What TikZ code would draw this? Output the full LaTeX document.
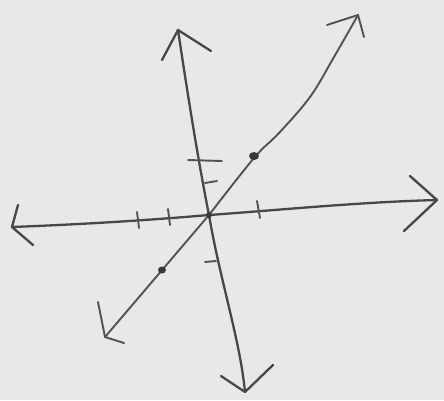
\documentclass[tikz,border=0pt]{standalone}
\begin{document}
\begin{tikzpicture}[x=1pt,y=-1pt,
  pen/.style={draw=black!72,line width=2.3pt,line cap=round,line join=round},
  thin pen/.style={draw=black!68,line width=1.9pt,line cap=round,line join=round},
  dotmark/.style={fill=black!78}]
\fill[black!9] (0,0) rectangle (444,400);
\useasboundingbox (0,0) rectangle (444,400);
% named points
\coordinate (O) at (209,215);
\coordinate (xl) at (12,227);
\coordinate (xr) at (437,200);
\coordinate (yt) at (178,30);
\coordinate (yb) at (245,392);
\coordinate (dl) at (105,337);
\coordinate (dr) at (358,15);
% horizontal axis
\draw[pen] (xl) .. controls (90,224) and (150,220) .. (O)
  .. controls (280,210) and (360,202) .. (xr);
\draw[pen] (18,205) -- (xl) -- (33,245);
\draw[pen] (410,176) -- (xr) -- (404,231);
% vertical axis
\draw[pen] (yt) .. controls (190,110) and (200,170) .. (O)
  .. controls (220,280) and (240,340) .. (yb);
\draw[pen] (162,60) -- (yt) -- (211,51);
\draw[pen] (221,376) -- (yb) -- (273,365);
% diagonal line
\draw[thin pen] (dl) -- (O);
\draw[thin pen] plot[smooth,tension=0.6] coordinates
  {(O) (254,158) (279,133) (310,97) (334,57) (dr)};
\draw[thin pen] (98,302) -- (dl) -- (124,343);
\draw[thin pen] (327,25) -- (dr) -- (364,37);
% ticks on horizontal axis
\draw[thin pen] (137,212) -- (139,228);
\draw[thin pen] (168,209) -- (170,225);
\draw[thin pen] (257,201) -- (260,218);
% ticks on vertical axis
\draw[thin pen] (188,160) -- (222,161);
\draw[thin pen] (205,183) -- (217,181);
\draw[thin pen] (205,262) -- (216,261);
% dots
\fill[dotmark] (O) circle (3);
\fill[dotmark] (254,156) ellipse (5 and 4);
\fill[dotmark] (162,270) ellipse (4 and 3.5);
\end{tikzpicture}
\end{document}
